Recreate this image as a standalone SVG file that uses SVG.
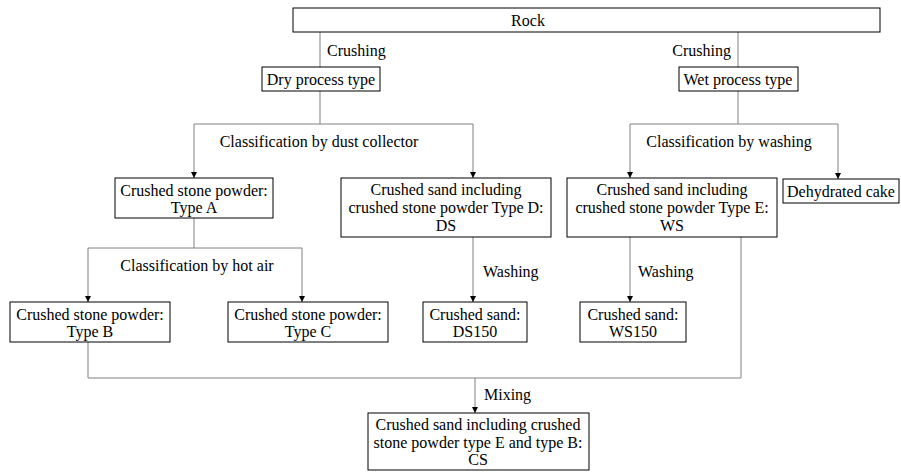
<svg xmlns="http://www.w3.org/2000/svg" width="901" height="475" viewBox="0 0 901 475">
<defs>
<style>
text{font-family:"Liberation Serif","Times New Roman",serif;font-size:16px;fill:#000}
.c{text-anchor:middle}
.box{fill:#fff;stroke:#000;stroke-width:1}
.ln{fill:none;stroke:#808080;stroke-width:1}
</style>
<marker id="ah" viewBox="0 0 8 8" refX="8" refY="4" markerWidth="6" markerHeight="6" markerUnits="userSpaceOnUse" orient="auto">
<path d="M0,0 L8,4 L0,8 Z" fill="#000"/>
</marker>
</defs>
<rect width="901" height="475" fill="#fff"/>
<g id="connectors">
<line class="ln" x1="320" y1="32" x2="320" y2="67"/>
<line class="ln" x1="738" y1="32" x2="738" y2="67"/>
<polyline class="ln" points="320,91 320,124"/>
<polyline class="ln" points="194,124 473,124"/>
<line class="ln" x1="194" y1="124" x2="194" y2="178" marker-end="url(#ah)"/>
<line class="ln" x1="473" y1="124" x2="473" y2="178" marker-end="url(#ah)"/>
<polyline class="ln" points="738,91 738,124"/>
<polyline class="ln" points="630,124 838,124"/>
<line class="ln" x1="630" y1="124" x2="630" y2="178" marker-end="url(#ah)"/>
<line class="ln" x1="838" y1="124" x2="838" y2="179" marker-end="url(#ah)"/>
<polyline class="ln" points="194,218 194,248"/>
<polyline class="ln" points="88,248 302,248"/>
<line class="ln" x1="88" y1="248" x2="88" y2="302" marker-end="url(#ah)"/>
<line class="ln" x1="302" y1="248" x2="302" y2="302" marker-end="url(#ah)"/>
<line class="ln" x1="473" y1="237" x2="473" y2="302" marker-end="url(#ah)"/>
<line class="ln" x1="630" y1="237" x2="630" y2="302" marker-end="url(#ah)"/>
<polyline class="ln" points="88,342 88,378 741,378 741,237"/>
<line class="ln" x1="475" y1="378" x2="475" y2="413" marker-end="url(#ah)"/>
</g>
<g id="labels">
<text x="327" y="56">Crushing</text>
<text x="731" y="56" text-anchor="end">Crushing</text>
<text class="c" x="319" y="147">Classification by dust collector</text>
<text class="c" x="729" y="147">Classification by washing</text>
<text class="c" x="197" y="271">Classification by hot air</text>
<text x="483" y="277">Washing</text>
<text x="638" y="277">Washing</text>
<text x="484" y="400">Mixing</text>
</g>
<g id="rock"><rect class="box" x="293" y="8" width="587" height="24"/><text class="c" x="528" y="26">Rock</text></g>
<g id="dry"><rect class="box" x="262" y="67" width="118" height="24"/><text class="c" x="321" y="85">Dry process type</text></g>
<g id="wet"><rect class="box" x="679" y="67" width="119" height="24"/><text class="c" x="738" y="85">Wet process type</text></g>
<g id="typeA"><rect class="box" x="115" y="178" width="158" height="40"/><text class="c" x="194" y="196">Crushed stone powder:</text><text class="c" x="194" y="213">Type A</text></g>
<g id="ds"><rect class="box" x="341" y="178" width="210" height="59"/><text class="c" x="446" y="195">Crushed sand including</text><text class="c" x="446" y="213">crushed stone powder Type D:</text><text class="c" x="446" y="231">DS</text></g>
<g id="ws"><rect class="box" x="567" y="178" width="210" height="59"/><text class="c" x="672" y="195">Crushed sand including</text><text class="c" x="672" y="213">crushed stone powder Type E:</text><text class="c" x="672" y="231">WS</text></g>
<g id="cake"><rect class="box" x="783" y="179" width="116" height="24"/><text class="c" x="841" y="197">Dehydrated cake</text></g>
<g id="typeB"><rect class="box" x="10" y="302" width="160" height="40"/><text class="c" x="90" y="320">Crushed stone powder:</text><text class="c" x="90" y="337">Type B</text></g>
<g id="typeC"><rect class="box" x="228" y="302" width="160" height="40"/><text class="c" x="308" y="320">Crushed stone powder:</text><text class="c" x="308" y="337">Type C</text></g>
<g id="ds150"><rect class="box" x="423" y="302" width="104" height="40"/><text class="c" x="475" y="320">Crushed sand:</text><text class="c" x="475" y="337">DS150</text></g>
<g id="ws150"><rect class="box" x="580" y="302" width="106" height="40"/><text class="c" x="633" y="320">Crushed sand:</text><text class="c" x="633" y="337">WS150</text></g>
<g id="cs"><rect class="box" x="368" y="413" width="221" height="57"/><text class="c" x="478" y="430">Crushed sand including crushed</text><text class="c" x="478" y="448">stone powder type E and type B:</text><text class="c" x="478" y="465">CS</text></g>
</svg>
